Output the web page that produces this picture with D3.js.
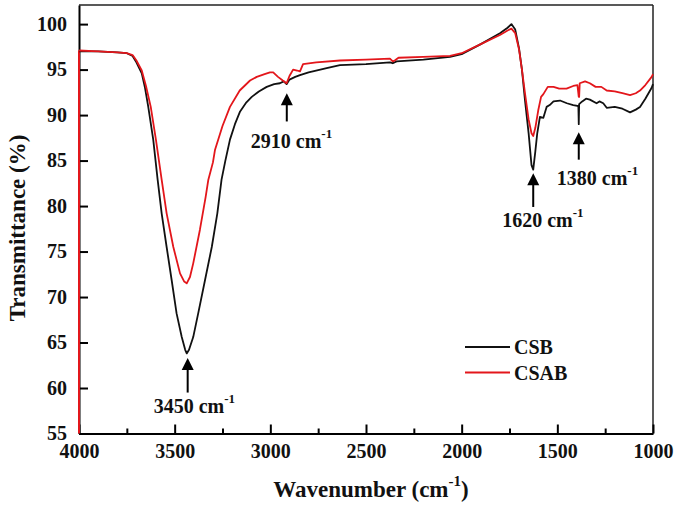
<html>
<head>
    <script src="https://d3js.org/d3.v7.min.js"></script>
    <style>
        body { margin: 0; background: #fff; }
        text { font-family: "Liberation Serif", "Times New Roman", serif; font-weight: bold; }
        .axis .domain { stroke: #000; stroke-width: 2; }
        .axis line { stroke: #000; stroke-width: 2; }
        .axis text { font-size: 20px; fill: #111; }
    </style>
</head>
<body>
<svg width="679" height="514"></svg>
<script>
    // CSB spectrum (wavenumber, transmittance %)
    const csbWave = [4000,3900,3800,3750,3720,3700,3672,3655,3638,3612,3589,3568,3542,3516,3490,3463,3445,3437,3425,3403,3377,3341,3306,3277,3255,3235,3211,3185,3158,3125,3097,3060,3019,2980,2950,2930,2915,2900,2870,2845,2800,2700,2636,2500,2375,2360,2340,2200,2061,2000,1900,1800,1760,1740,1720,1700,1685,1669,1650,1635,1626,1615,1605,1591,1573,1556,1540,1520,1486,1450,1417,1395,1390,1388,1386,1370,1350,1330,1295,1280,1260,1242,1200,1160,1120,1090,1068,1040,1007,1000];
    const csbT = [97.0,97.0,96.9,96.8,96.5,95.8,94.6,93.0,90.9,87.3,82.9,79.2,75.5,71.9,68.2,65.6,64.2,63.8,64.2,65.6,68.2,71.9,75.5,79.2,82.9,85.0,87.3,89.0,90.4,91.4,92.0,92.6,93.1,93.4,93.5,93.7,93.4,93.9,94.2,94.4,94.7,95.2,95.5,95.6,95.8,95.7,95.9,96.1,96.4,96.7,97.8,99.0,99.6,100.0,99.4,97.3,95.0,91.6,88.0,84.5,84.0,86.0,88.0,89.8,89.7,90.9,91.1,91.5,91.6,91.3,91.1,91.0,91.0,89.0,91.2,91.5,91.8,91.7,91.3,91.5,91.3,90.8,90.9,90.7,90.3,90.6,90.9,91.8,93.0,93.4];

    // CSAB spectrum
    const csabWave = [4000,3900,3800,3750,3720,3700,3672,3650,3625,3598,3568,3542,3507,3472,3450,3437,3420,3403,3368,3338,3324,3300,3289,3250,3211,3160,3106,3071,3030,3002,2985,2960,2935,2915,2900,2881,2860,2845,2829,2760,2636,2500,2375,2360,2350,2330,2200,2061,2000,1900,1800,1760,1740,1720,1700,1685,1669,1650,1635,1626,1615,1600,1585,1573,1550,1520,1490,1452,1417,1395,1388,1386,1383,1355,1330,1300,1270,1242,1200,1160,1120,1090,1068,1040,1007,1000];
    const csabT = [97.1,97.0,96.9,96.8,96.6,96.0,94.9,93.2,90.9,87.3,82.9,79.2,75.5,72.6,71.7,71.5,72.2,73.7,77.4,81.0,82.9,84.8,86.2,88.8,90.9,92.7,93.8,94.2,94.5,94.7,94.7,94.2,93.8,93.5,94.3,95.0,94.9,94.8,95.6,95.8,96.0,96.1,96.2,95.9,96.0,96.3,96.4,96.5,96.8,97.8,98.8,99.3,99.5,99.0,97.2,95.0,92.4,89.5,88.0,87.7,88.6,90.5,92.0,92.3,93.1,93.1,92.9,92.9,93.2,93.3,92.0,92.0,93.5,93.7,93.5,93.1,93.1,92.7,92.6,92.4,92.2,92.4,92.7,93.3,94.2,94.5];

    const xTicks = [4000,3500,3000,2500,2000,1500,1000];
    const xMinor = [3750,3250,2750,2250,1750,1250];
    const yTicks = [55,60,65,70,75,80,85,90,95,100];

    const seriesNames = ["CSB", "CSAB"];
    const seriesColors = ["#111", "#e3161b"];

    // peak annotations: label, wavenumber, arrow tip, arrow tail (in %T)
    const peakLabels = ["3450", "2910", "1620", "1380"];
    const peakWave = [3432, 2914, 1626, 1388];
    const peakTip = [63.3, 92.4, 83.6, 88.1];
    const peakTail = [59.5, 89.3, 79.9, 85.1];

    const svg = d3.select("svg");
    const mLeft = 79, mRight = 653, mTop = 5, mBottom = 433.5;

    const x = d3.scaleLinear().domain([4000, 1000]).range([mLeft, mRight]);
    const y = d3.scaleLinear().domain([55, 102.1]).range([mBottom, mTop]);

    const csb = csbWave.map((w, i) => ({ w: w, t: csbT[i] }));
    const csab = csabWave.map((w, i) => ({ w: w, t: csabT[i] }));

    // frame
    svg.append("line").attr("x1", mLeft).attr("x2", mRight).attr("y1", mTop).attr("y2", mTop)
       .attr("stroke", "#222").attr("stroke-width", 1.5);
    svg.append("line").attr("x1", mRight).attr("x2", mRight).attr("y1", mTop).attr("y2", mBottom)
       .attr("stroke", "#222").attr("stroke-width", 1.5);

    svg.append("g")
       .attr("class", "axis")
       .attr("transform", `translate(0,${mBottom})`)
       .call(d3.axisBottom(x).tickValues(xTicks).tickSizeInner(-9).tickSizeOuter(0).tickPadding(10).tickFormat(d3.format("d")));

    svg.append("g")
       .attr("class", "axis")
       .attr("transform", `translate(0,${mBottom})`)
       .call(d3.axisBottom(x).tickValues(xMinor).tickSizeInner(-5).tickSizeOuter(0).tickFormat(""))
       .select(".domain").remove();

    svg.append("g")
       .attr("class", "axis")
       .attr("transform", `translate(${mLeft},0)`)
       .call(d3.axisLeft(y).tickValues(yTicks).tickSizeInner(-9).tickSizeOuter(0).tickPadding(12));

    // red trace running down the left axis in the original figure
    svg.append("line")
       .attr("x1", x(4000)).attr("x2", x(4000))
       .attr("y1", y(csabT[0])).attr("y2", y(55))
       .attr("stroke", seriesColors[1]).attr("stroke-width", 2);

    const line = d3.line().x(d => x(d.w)).y(d => y(d.t));

    [csb, csab].forEach((data, i) => {
        svg.append("path")
           .datum(data)
           .attr("fill", "none")
           .attr("stroke", seriesColors[i])
           .attr("stroke-width", 1.8)
           .attr("stroke-linejoin", "round")
           .attr("d", line);
    });

    // arrows
    peakLabels.forEach((lab, i) => {
        const px = x(peakWave[i]);
        const tipY = y(peakTip[i]);
        const tailY = y(peakTail[i]);
        svg.append("line")
           .attr("x1", px).attr("x2", px)
           .attr("y1", tipY + 8).attr("y2", tailY)
           .attr("stroke", "#000").attr("stroke-width", 2);
        svg.append("path")
           .attr("d", `M${px},${tipY} L${px - 6},${tipY + 12} L${px + 6},${tipY + 12} Z`)
           .attr("fill", "#000");
    });

    // peak labels
    const labelPos = [
        { dx: -34, dy: 20 },
        { dx: -36, dy: 27 },
        { dx: -31, dy: 20 },
        { dx: -22, dy: 25 }
    ];
    peakLabels.forEach((lab, i) => {
        const t = svg.append("text")
           .attr("x", x(peakWave[i]) + labelPos[i].dx)
           .attr("y", y(peakTail[i]) + labelPos[i].dy)
           .attr("font-size", 20)
           .attr("fill", "#111");
        t.append("tspan").text(lab + " cm");
        t.append("tspan").attr("font-size", 13).attr("dy", -10).text("-1");
    });

    // legend
    const legend = svg.append("g").attr("transform", "translate(465,347)");
    seriesNames.forEach((name, i) => {
        legend.append("line")
              .attr("x1", 0).attr("x2", 45)
              .attr("y1", i * 25.5).attr("y2", i * 25.5)
              .attr("stroke", seriesColors[i]).attr("stroke-width", 2);
        legend.append("text")
              .attr("x", 49).attr("y", i * 25.5 + 7)
              .attr("font-size", 20).attr("fill", "#111")
              .text(name);
    });

    // axis titles
    const xt = svg.append("text")
       .attr("x", 371).attr("y", 497)
       .attr("text-anchor", "middle")
       .attr("font-size", 23).attr("fill", "#111");
    xt.append("tspan").text("Wavenumber (cm");
    xt.append("tspan").attr("font-size", 15).attr("dy", -11).text("-1");
    xt.append("tspan").attr("dy", 11).text(")");

    svg.append("text")
       .attr("transform", "translate(25,228) rotate(-90)")
       .attr("text-anchor", "middle")
       .attr("font-size", 23).attr("fill", "#111")
       .text("Transmittance (%)");
</script>
</body>
</html>
